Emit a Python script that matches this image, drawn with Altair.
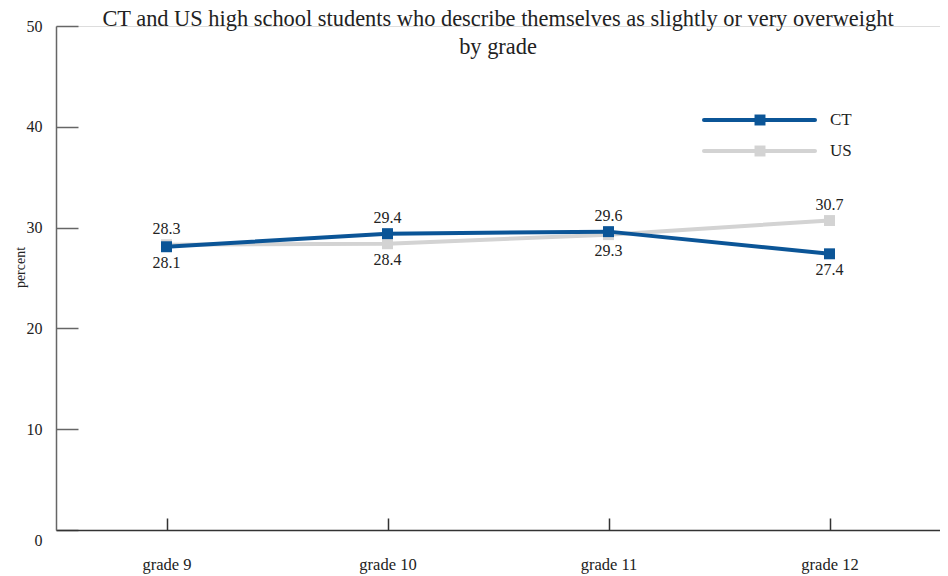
import altair as alt
import pandas as pd

grades = ["grade 9", "grade 10", "grade 11", "grade 12"]
ct_values = [28.1, 29.4, 29.6, 27.4]
us_values = [28.3, 28.4, 29.3, 30.7]
series_names = ["CT", "US"]
series_colors = ["#0b5597", "#d3d3d3"]
y_ticks = [0, 10, 20, 30, 40, 50]
title_lines = [
    "CT and US high school students who describe themselves as slightly or very overweight",
    "by grade",
]

FONT = "Liberation Serif"
TXT = "#222222"

rows = []
for i, g in enumerate(grades):
    for s, vals, other in [("CT", ct_values, us_values), ("US", us_values, ct_values)]:
        v, o = vals[i], other[i]
        rows.append({"grade": g, "series": s, "value": v,
                     "above": bool(v >= o), "label": f"{v:.1f}"})
df = pd.DataFrame(rows)

x_enc = alt.X(
    "grade:N", sort=grades,
    scale=alt.Scale(type="point", padding=0.5),
    axis=alt.Axis(
        title=None, labelAngle=0, labelFont=FONT, labelFontSize=16.5, labelColor=TXT,
        labelPadding=26, ticks=False, domainColor="#333333", domainWidth=1.5,
        grid=True, gridDash=[0, 492, 12, 100], gridColor="#333333", gridWidth=1.5,
    ),
)
y_enc = alt.Y(
    "value:Q",
    scale=alt.Scale(domain=[0, 50], nice=False, zero=True),
    axis=alt.Axis(
        values=y_ticks, title="percent", titleFont=FONT, titleFontSize=14,
        titleFontWeight="normal", titleColor=TXT, titleX=-36, titleY=241,
        titleBaseline="middle", titleAlign="center",
        labelFont=FONT, labelFontSize=16, labelColor=TXT, labelPadding=14,
        labelOffset={"condition": {"test": "datum.value == 0", "value": 10}, "value": 0},
        ticks=False, domainColor="#666666", domainWidth=1.5,
        grid=True, gridDash=[22, 2000], gridColor="#666666", gridWidth=1.5,
    ),
)

layers = []
for name, color in reversed(list(zip(series_names, series_colors))):
    sub = alt.Chart(df).transform_filter(alt.datum.series == name)
    layers.append(sub.mark_line(strokeWidth=4, color=color, strokeCap="round").encode(x=x_enc, y=y_enc))
    layers.append(sub.mark_point(shape="square", filled=True, size=120, opacity=1, color=color).encode(x=x_enc, y=y_enc))

labels_above = alt.Chart(df).transform_filter(alt.datum.above == True).mark_text(
    dy=-16, font=FONT, fontSize=16, color=TXT).encode(x=x_enc, y=y_enc, text="label:N")
labels_below = alt.Chart(df).transform_filter(alt.datum.above == False).mark_text(
    dy=16, font=FONT, fontSize=16, color=TXT).encode(x=x_enc, y=y_enc, text="label:N")
layers += [labels_above, labels_below]

# legend
for i, (name, color) in enumerate(zip(series_names, series_colors)):
    ld = alt.Chart(pd.DataFrame({"s": [name]}))
    yy = 94 + 31 * i
    layers.append(ld.mark_rule(strokeWidth=4, color=color, strokeCap="round").encode(
        x=alt.value(648), x2=alt.value(759), y=alt.value(yy)))
    layers.append(ld.mark_point(shape="square", filled=True, size=120, opacity=1, color=color).encode(
        x=alt.value(704), y=alt.value(yy)))
    layers.append(ld.mark_text(align="left", baseline="middle", font=FONT, fontSize=17, color=TXT).encode(
        x=alt.value(774), y=alt.value(yy), text="s:N"))

chart = alt.layer(*layers).properties(
    width=884, height=504,
    padding={"left": 48, "top": 18, "right": 0, "bottom": 44},
    autosize=alt.AutoSizeParams(type="none"),
    title=alt.TitleParams(
        text=title_lines, font=FONT, fontSize=22.4, fontWeight="normal", color=TXT,
        anchor="middle", lineHeight=28, dy=44,
    ),
).configure_view(stroke=None).configure(background="white")

chart.save("out.html", embed_options={"renderer": "svg", "actions": False})
